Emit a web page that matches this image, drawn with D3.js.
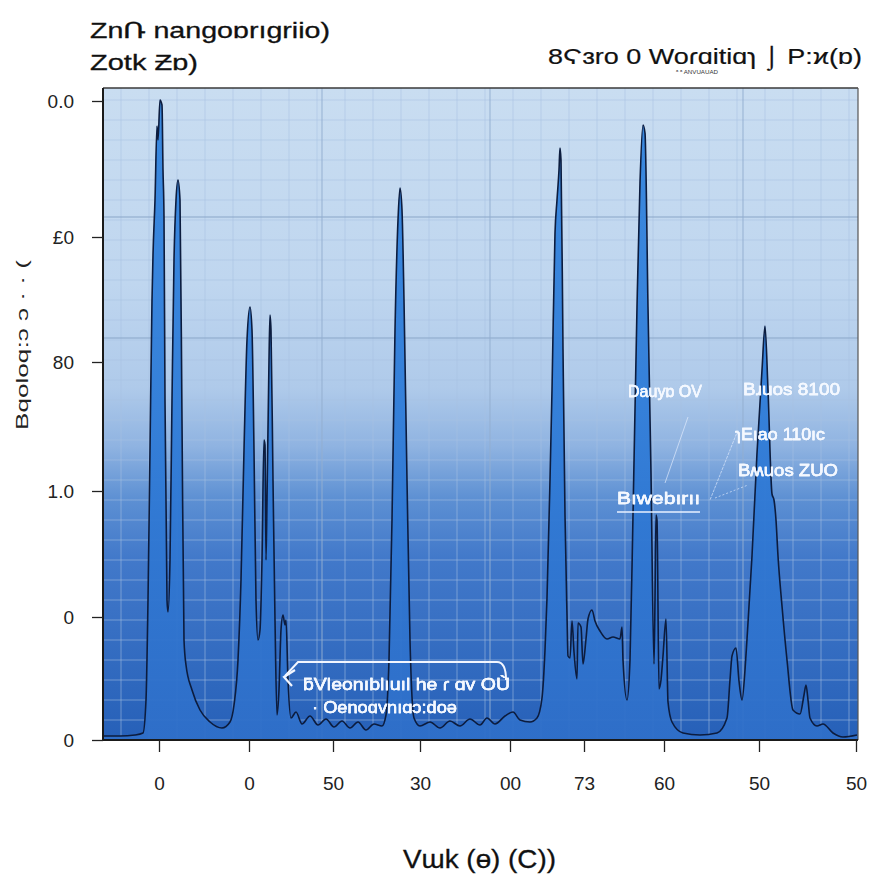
<!DOCTYPE html>
<html>
<head>
<meta charset="utf-8">
<script src="https://cdn.jsdelivr.net/npm/d3@7"></script>
<style>
  html,body{margin:0;padding:0;background:#fff;}
  svg{display:block;font-family:"Liberation Sans",Arial,sans-serif;}
</style>
</head>
<body>
<svg id="chart" width="885" height="876"></svg>
<script>
// ---------- data ----------
const xTickValues = [11.2, 29.2, 46, 63.4, 81.4, 96.2, 112.2, 131.2, 150.6];
const xTickLabels = ["0", "0", "50", "30", "00", "73", "60", "50", "50"];
const yTickValues = [0, 24.6, 49.8, 75.6, 100.6, 127.8];
const yTickLabels = ["0", "0", "1.0", "80", "£0", "0.0"];

const spectrumX = [0,3.4,6.4,8,8.6,9,9.4,9.8,10,10.4,10.8,11,11.4,11.8,12,12.2,12.4,12.8,13,13.4,13.8,14.2,14.6,15,15.4,15.8,16.2,16.6,17.8,19.4,21.4,23.8,25.4,26.2,27,27.6,28.2,28.8,29.4,29.8,30.2,30.6,31,31.4,31.8,32.2,32.4,32.6,32.8,33.2,33.4,33.6,34,34.4,34.8,35.2,35.6,36,36.4,36.6,37,37.6,38.6,39.8,41.4,43,44.6,46.2,47.8,49.4,51,52.6,54.2,55.8,56.6,57.2,57.8,58.4,59,59.4,59.8,60.2,60.8,61.4,62.2,63.4,65.4,67.4,69.4,71.4,73.4,75.4,76.8,78.4,80.4,82,83.4,85.4,86.8,87.8,88.4,88.8,89.4,89.8,90.4,90.8,91.2,91.4,91.6,92,92.4,92.8,93,93.4,93.8,94.2,94.8,95,95.6,96,96.6,97,97.8,98.4,99.4,100.8,102,103.4,103.8,104,104.8,105.4,106,106.8,107.4,108,108.4,109,109.6,110.2,110.4,110.6,110.8,111.2,111.6,112,112.6,113,113.8,116,119.4,122.8,124.8,125.4,125.8,126.6,127.2,127.8,128.4,128.8,129.8,130.8,131.8,132.4,133,133.8,134.2,134.6,135,135.8,136.8,138,139.4,140.2,140.6,141,141.4,142.8,144,146,148,150.8];
const spectrumY = [0.8,0.8,1,1.4,8,28,58,88,97,108,122.8,120,128,127,114,104.8,68,28,25.6,36,68,96,108,112,108,64,20,15,10,6,3.6,2.4,3.6,7,16,32,58,80,86.6,82,58,28,20,22,36,60,59,36,48,76,85,82,52,24,5,10,22,25,23,24,12,4.4,5.6,3.2,4.8,3,4.2,2.6,3.8,2.4,3.6,2,3.2,2.8,5,16,44,82,104,110.4,106,88,52,20,4.4,2.8,3.6,2.4,3.8,2.8,4.2,3,4.4,3.2,4.8,5.6,4,3.6,4.4,8.4,18,28.4,52,70,101.4,108,114,118.4,116,78.2,45,25,16.8,16.4,23.8,17.6,12.2,23.4,22.6,15.2,20.2,24.2,26,23.8,21.8,20.2,20.6,20.2,22.6,16,8,16,45,86.6,111.4,123,121.4,86.6,53.4,15.2,28,45,44,10.2,12,16.8,24.2,7.6,3.6,1.4,1,1.4,4.4,12,16.8,18.4,11.8,8,14,20.2,36.8,57.4,74,82.8,70,49.2,48,44,36.8,26.8,16,6,5.2,9,11,8,4.4,2.8,3.2,1.4,0.6,1];

const labelTexts = ["Dauyɒ OV", "Bɹuos 8100", "ɿEıao 110ıc", "Bʍuos ZUO", "Bıwebırıı"];
const labelX = [105, 128, 126.4, 127, 102.8];
const labelY = [68.6, 69, 60, 52.8, 47.2];
const labelW = [74, 97, 90, 100, 83];

const boxTexts = ["ƃVleonıblıuıl he ɾ ɑv OÙ", "· Oenoɑvnıɑɔ:doə"];

(function () {
// ---------- layout ----------
const svg = d3.select("#chart");
const pL = 103, pR = 858, pT = 88, pB = 740;
const x = d3.scaleLinear().domain([0, 151]).range([pL, pR]);
const y = d3.scaleLinear().domain([0, 130.4]).range([pB, pT]);

const defs = svg.append("defs");
const bg = defs.append("linearGradient").attr("id", "bg")
  .attr("x1", 0).attr("y1", 0).attr("x2", 0).attr("y2", 1);
[[0, "#c9ddf1"], [0.3, "#bfd6ef"], [0.46, "#afcaea"], [0.55, "#8fb3e1"],
 [0.63, "#5d90d3"], [0.72, "#4279ca"], [1, "#2660b8"]].forEach(s =>
  bg.append("stop").attr("offset", s[0]).attr("stop-color", s[1]));

const af = defs.append("linearGradient").attr("id", "af")
  .attr("gradientUnits", "userSpaceOnUse")
  .attr("x1", 0).attr("y1", pT).attr("x2", 0).attr("y2", pB);
[[0, "#3385de"], [0.5, "#2f7cd8"], [1, "#2f6fc9"]].forEach(s =>
  af.append("stop").attr("offset", s[0]).attr("stop-color", s[1]));

const glow = defs.append("filter").attr("id", "glow");
glow.append("feGaussianBlur").attr("stdDeviation", 0.6);
const fm = glow.append("feMerge");
fm.append("feMergeNode"); fm.append("feMergeNode").attr("in", "SourceGraphic");

// background
svg.append("rect").attr("x", pL).attr("y", pT)
  .attr("width", pR - pL).attr("height", pB - pT).attr("fill", "url(#bg)");

// grid
const g = svg.append("g");
const minorH = d3.range(4, 130, 4);
const minorV = d3.range(3.6, 151, 5.6);
g.selectAll(".mh").data(minorH).join("line")
  .attr("x1", pL).attr("x2", pR).attr("y1", d => y(d)).attr("y2", d => y(d))
  .attr("stroke", "#a9c2e2").attr("stroke-opacity", 0.55).attr("stroke-width", 1);
g.selectAll(".mv").data(minorV).join("line")
  .attr("y1", pT).attr("y2", pB).attr("x1", d => x(d)).attr("x2", d => x(d))
  .attr("stroke", "#a9c2e2").attr("stroke-opacity", 0.55).attr("stroke-width", 1);
const majorH = [104.6, 80.4];
const majorV = [43.8, 77.4, 128];
g.selectAll(".Mh").data(majorH).join("line")
  .attr("x1", pL).attr("x2", pR).attr("y1", d => y(d)).attr("y2", d => y(d))
  .attr("stroke", "#8aa6c8").attr("stroke-width", 1.2);
g.selectAll(".Mv").data(majorV).join("line")
  .attr("y1", pT).attr("y2", pB).attr("x1", d => x(d)).attr("x2", d => x(d))
  .attr("stroke", "#94aed0").attr("stroke-opacity", 0.8).attr("stroke-width", 1.2);

// spectrum
const n = Math.min(spectrumX.length, spectrumY.length);
const pts = d3.range(n).map(i => [spectrumX[i], spectrumY[i]]);
const area = d3.area().x(d => x(d[0])).y0(y(0)).y1(d => y(d[1])).curve(d3.curveMonotoneX);
const line = d3.line().x(d => x(d[0])).y(d => y(d[1])).curve(d3.curveMonotoneX);
svg.append("path").datum(pts).attr("d", area).attr("fill", "url(#af)").attr("fill-opacity", 0.95);
svg.append("path").datum(pts).attr("d", line).attr("fill", "none")
  .attr("stroke", "#0c1c3e").attr("stroke-width", 1.6).attr("stroke-linejoin", "round");

// frame
svg.append("line").attr("x1", pL).attr("x2", pR).attr("y1", pT).attr("y2", pT)
  .attr("stroke", "#3a3a3a").attr("stroke-width", 1.5);
svg.append("line").attr("x1", pR).attr("x2", pR).attr("y1", pT).attr("y2", pB)
  .attr("stroke", "#555").attr("stroke-width", 1.2);

// axes
const yAxis = d3.axisLeft(y).tickValues(yTickValues).tickSize(11).tickPadding(18)
  .tickFormat((d, i) => yTickLabels[i]);
const ya = svg.append("g").attr("transform", `translate(${pL},0)`).call(yAxis);
ya.select(".domain").attr("stroke", "#1a1a1a").attr("stroke-width", 2)
  .attr("d", `M0,${pT}V${pB}`);
ya.selectAll(".tick line").attr("stroke", "#222").attr("stroke-width", 1.3);
ya.selectAll(".tick text").attr("font-size", 19).attr("fill", "#222")
  .attr("font-family", "'Liberation Sans',Arial,sans-serif");

const xAxis = d3.axisBottom(x).tickValues(xTickValues).tickSize(12).tickPadding(25)
  .tickFormat((d, i) => xTickLabels[i]);
const xa = svg.append("g").attr("transform", `translate(0,${pB})`).call(xAxis);
xa.select(".domain").attr("stroke", "#1a1a1a").attr("stroke-width", 2)
  .attr("d", `M${pL},0H${pR}`);
xa.selectAll(".tick line").attr("stroke", "#222").attr("stroke-width", 1.3);
xa.selectAll(".tick text").attr("font-size", 19).attr("fill", "#222")
  .attr("font-family", "'Liberation Sans',Arial,sans-serif");

// titles
svg.append("text").attr("x", 90).attr("y", 38).attr("font-size", 22).attr("fill", "#111")
  .attr("textLength", 240).attr("lengthAdjust", "spacingAndGlyphs")
  .attr("stroke", "#111").attr("stroke-width", 0.3)
  .text("ZnՌ nangoɒrıgriio)");
svg.append("text").attr("x", 90).attr("y", 70).attr("font-size", 22).attr("fill", "#111")
  .attr("textLength", 108).attr("lengthAdjust", "spacingAndGlyphs")
  .attr("stroke", "#111").attr("stroke-width", 0.3)
  .text("Zotk Ƶɒ)");
svg.append("text").attr("x", 548).attr("y", 64).attr("font-size", 22).attr("fill", "#111")
  .attr("textLength", 314).attr("lengthAdjust", "spacingAndGlyphs")
  .attr("stroke", "#111").attr("stroke-width", 0.2)
  .text("8Ϛɜro 0 Woɾɑitiɑɿ ⌡ P:ϰ(ɒ)");
svg.append("text").attr("x", 676).attr("y", 74).attr("font-size", 6).attr("fill", "#333")
  .attr("textLength", 42).attr("lengthAdjust", "spacingAndGlyphs")
  .text("ᵃ ᵃ ANVUAUAD");
svg.append("text").attr("x", 403).attr("y", 868).attr("font-size", 25).attr("fill", "#111")
  .attr("textLength", 153).attr("lengthAdjust", "spacingAndGlyphs")
  .attr("stroke", "#111").attr("stroke-width", 0.3)
  .text("Vɯk (ɵ) (C))");
svg.append("text").attr("transform", "translate(28,345) rotate(-90)")
  .attr("text-anchor", "middle").attr("font-size", 16).attr("fill", "#222")
  .attr("textLength", 170).attr("lengthAdjust", "spacingAndGlyphs")
  .text("Bqoloq:ɔ ɔ · · ( ");

// annotations
const ann = svg.append("g").attr("fill", "#f4f8ff").attr("stroke", "#f4f8ff")
  .attr("stroke-width", 0.35).attr("filter", "url(#glow)");
labelTexts.forEach((t, i) => {
  ann.append("text").attr("x", x(labelX[i])).attr("y", y(labelY[i]))
    .attr("font-size", 17).attr("textLength", labelW[i])
    .attr("lengthAdjust", "spacingAndGlyphs").text(t);
});
const lines = svg.append("g").attr("stroke", "#e8f0ff").attr("fill", "none");
lines.append("line").attr("x1", x(117)).attr("y1", y(64.6)).attr("x2", x(112.4)).attr("y2", y(51.4))
  .attr("stroke-width", 0.8).attr("stroke-opacity", 0.8);
lines.append("line").attr("x1", x(127)).attr("y1", y(62)).attr("x2", x(121.4)).attr("y2", y(48))
  .attr("stroke-width", 0.8).attr("stroke-opacity", 0.8).attr("stroke-dasharray", "3,1");
lines.append("line").attr("x1", x(122.4)).attr("y1", y(48.4)).attr("x2", x(129)).attr("y2", y(51))
  .attr("stroke-width", 0.8).attr("stroke-opacity", 0.8).attr("stroke-dasharray", "2,2");
lines.append("line").attr("x1", x(102.8)).attr("y1", y(45.6)).attr("x2", x(119.4)).attr("y2", y(45.6))
  .attr("stroke-width", 1.6);

// box annotation
const bx = svg.append("g");
bx.append("path").attr("fill", "none").attr("stroke", "#f2f6ff").attr("stroke-width", 2)
  .attr("d", `M${x(36.4)},${y(12.8)} L${x(39)},${y(15.6)} H${x(78.8)} Q${x(80.6)},${y(15.6)} ${x(80.6)},${y(12)}`);
bx.append("path").attr("fill", "none").attr("stroke", "#f2f6ff").attr("stroke-width", 2.2)
  .attr("d", `M${x(38.4)},${y(14)} L${x(36.2)},${y(12.6)} L${x(37.8)},${y(10.8)}`);
boxTexts.forEach((t, i) => {
  bx.append("text").attr("x", x(i ? 41.8 : 40)).attr("y", y(i ? 5.4 : 10))
    .attr("font-size", 17).attr("fill", "#f4f8ff").attr("stroke", "#f4f8ff")
    .attr("stroke-width", 0.35).attr("filter", "url(#glow)")
    .attr("textLength", i ? 145 : 207).attr("lengthAdjust", "spacingAndGlyphs").text(t);
});
})();
</script>
</body>
</html>
